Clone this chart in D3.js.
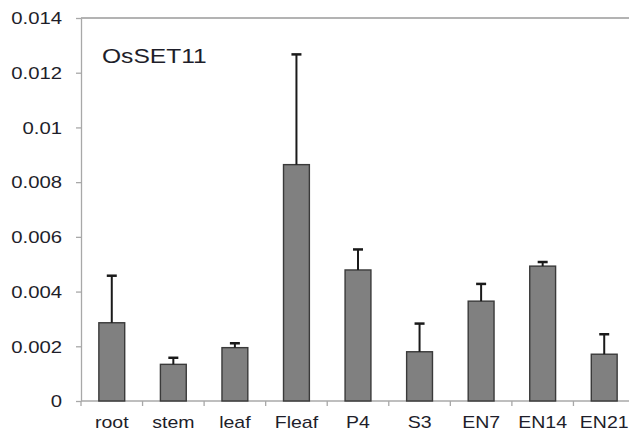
<!DOCTYPE html>
<html>
<head>
<meta charset="utf-8">
<script src="https://cdn.jsdelivr.net/npm/d3@7"></script>
<style>
  html, body { margin: 0; padding: 0; background: #fff; }
  svg { display: block; }
  text { font-family: "Liberation Sans", Arial, sans-serif; fill: #1e1e2a; }
</style>
</head>
<body>
<svg id="chart" width="629" height="436"></svg>
<script>
// Relative expression of OsSET11 across tissues
const categories = ["root", "stem", "leaf", "Fleaf", "P4", "S3", "EN7", "EN14", "EN21"];
const means  = [0.00286, 0.00134, 0.00195, 0.00864, 0.00479, 0.00180, 0.00365, 0.00493, 0.00171];
const errors = [0.00172, 0.00024, 0.00016, 0.00403, 0.00075, 0.00103, 0.00063, 0.00015, 0.00073];
const yTicks = [0, 0.002, 0.004, 0.006, 0.008, 0.01, 0.012, 0.014];
const yTickLabels = ["0", "0.002", "0.004", "0.006", "0.008", "0.01", "0.012", "0.014"];
const geneName = "OsSET11";

const svg = d3.select("#chart");
const plotLeft = 81, plotTop = 18, plotBottom = 401, plotRight = 635;
const sx = 1.22; // horizontal stretch applied to the lettering

const x = d3.scaleBand().domain(categories).range([plotLeft, plotRight]).paddingInner(0.58).paddingOuter(0.29);
const y = d3.scaleLinear().domain([0, 0.014]).range([plotBottom, plotTop]);

// frame top line
svg.append("line")
  .attr("x1", plotLeft).attr("x2", 629).attr("y1", y(0.014)).attr("y2", y(0.014))
  .attr("stroke", "#9a9a9a").attr("stroke-width", 1.5);

// y axis
const yAxis = svg.append("g").attr("transform", `translate(${plotLeft},0)`)
  .call(d3.axisLeft(y).tickValues(yTicks).tickSize(5).tickSizeOuter(0)
    .tickFormat((d, i) => yTickLabels[i]));
yAxis.select(".domain").attr("stroke", "#a8a8a8").attr("stroke-width", 1.3);
yAxis.selectAll(".tick line").attr("stroke", "#a8a8a8").attr("stroke-width", 1.3);
yAxis.selectAll(".tick text")
  .attr("x", 0).attr("dy", "0.36em")
  .attr("transform", `translate(-19,0) scale(1.27,1)`)
  .style("font-size", "16px").style("font-family", "'Liberation Sans', Arial, sans-serif")
  .attr("fill", "#1e1e2a");

// x axis: ticks at category boundaries
const step = x.step();
const bounds = d3.range(categories.length + 1).map(i => plotLeft + i * step);
const xg = svg.append("g");
xg.append("line").attr("x1", plotLeft).attr("x2", plotRight).attr("y1", plotBottom).attr("y2", plotBottom)
  .attr("stroke", "#a8a8a8").attr("stroke-width", 1.3);
xg.selectAll("line.tk").data(bounds).join("line").attr("class", "tk")
  .attr("x1", d => d).attr("x2", d => d).attr("y1", plotBottom).attr("y2", plotBottom + 5)
  .attr("stroke", "#a8a8a8").attr("stroke-width", 1.3);
xg.selectAll("text").data(categories).join("text")
  .attr("transform", d => `translate(${x(d) + x.bandwidth() / 2},${plotBottom + 27}) scale(${sx},1)`)
  .attr("text-anchor", "middle")
  .style("font-size", "16px")
  .text(d => d);

// bars
svg.append("g").selectAll("rect").data(categories).join("rect")
  .attr("x", d => x(d)).attr("width", x.bandwidth())
  .attr("y", (d, i) => y(means[i])).attr("height", (d, i) => y(0) - y(means[i]))
  .attr("fill", "#808080").attr("stroke", "#3a3a3a").attr("stroke-width", 1.4);

// upper error bars
const eb = svg.append("g").attr("stroke", "#1a1a1a").attr("stroke-width", 2);
eb.selectAll("line.v").data(categories).join("line").attr("class", "v")
  .attr("x1", d => x(d) + x.bandwidth() / 2).attr("x2", d => x(d) + x.bandwidth() / 2)
  .attr("y1", (d, i) => y(means[i])).attr("y2", (d, i) => y(means[i] + errors[i]));
eb.selectAll("line.c").data(categories).join("line").attr("class", "c")
  .attr("x1", d => x(d) + x.bandwidth() / 2 - 5).attr("x2", d => x(d) + x.bandwidth() / 2 + 5)
  .attr("y1", (d, i) => y(means[i] + errors[i])).attr("y2", (d, i) => y(means[i] + errors[i]))
  .attr("stroke-width", 2.5);

// gene label
svg.append("text")
  .attr("transform", `translate(102,63) scale(1.2,1)`)
  .style("font-size", "20.5px")
  .text(geneName);
</script>
</body>
</html>
